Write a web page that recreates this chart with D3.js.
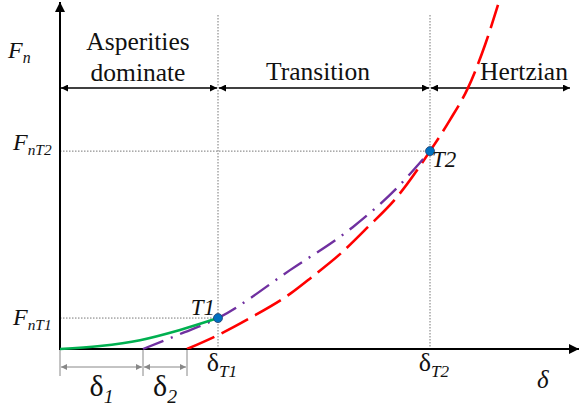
<!doctype html>
<html>
<head>
  <meta charset="utf-8">
</head>
<body style="margin:0">
  <script src="https://d3js.org/d3.v7.min.js"></script>
  <script>
    // Curve data (x = displacement, y = normal force, arbitrary units)
    var greenX  = [0, 0.8, 1.6, 2.4, 3.16];
    var greenY  = [0, 0.09, 0.26, 0.56, 0.91];
    var purpleX = [1.66, 2.4, 3.16, 4.6, 5.86, 6.74, 7.4];
    var purpleY = [0, 0.44, 0.91, 2.32, 3.59, 4.74, 5.82];
    var redX    = [2.54, 3.16, 3.8, 4.6, 5.04, 5.6, 6.16, 6.74, 7.4, 7.8, 8.16, 8.5, 8.76];
    var redY    = [0, 0.41, 0.91, 1.62, 2.12, 2.79, 3.59, 4.47, 5.82, 6.74, 7.68, 8.94, 10.12];

    // key values
    var delta1 = 1.66, delta2 = 2.54, deltaT1 = 3.16, deltaT2 = 7.4;
    var forceT1 = 0.91, forceT2 = 5.82;
    var regionNames = [["Asperities", "dominate"], ["Transition"], ["Hertzian"]];

    var width = 580, height = 409;
    var ox = 60, oy = 349;
    var serif = "'Liberation Serif', 'Times New Roman', Times, serif";

    var x = d3.scaleLinear().domain([0, 10]).range([ox, 560]);
    var y = d3.scaleLinear().domain([0, 10]).range([oy, 9]);

    var svg = d3.select("body").append("svg")
                .attr("width", width)
                .attr("height", height)
                .style("font-family", serif);

    var defs = svg.append("defs");
    function marker(id, color, w, h, reverse) {
      defs.append("marker")
          .attr("id", id)
          .attr("viewBox", "0 0 10 10")
          .attr("refX", 10).attr("refY", 5)
          .attr("markerWidth", w).attr("markerHeight", h)
          .attr("markerUnits", "userSpaceOnUse")
          .attr("orient", reverse ? "auto-start-reverse" : "auto")
        .append("path")
          .attr("d", "M0,0L10,5L0,10z")
          .attr("fill", color);
    }
    marker("axisArrow", "#000", 14, 10);
    marker("smallArrow", "#000", 9, 7, true);
    marker("greyArrow", "#888", 7, 6, true);

    // dotted guide lines
    var guides = svg.append("g")
        .attr("stroke", "#777")
        .attr("stroke-width", 1)
        .attr("stroke-dasharray", "1.5,1.5");
    [deltaT1, deltaT2].forEach(function(d) {
      guides.append("line")
          .attr("x1", x(d)).attr("x2", x(d))
          .attr("y1", 15).attr("y2", oy);
    });
    [[forceT1, deltaT1], [forceT2, deltaT2]].forEach(function(d) {
      guides.append("line")
          .attr("x1", ox).attr("x2", x(d[1]))
          .attr("y1", y(d[0])).attr("y2", y(d[0]));
    });

    // axes
    svg.append("line")
        .attr("x1", ox).attr("y1", oy).attr("x2", ox).attr("y2", 2)
        .attr("stroke", "#000").attr("stroke-width", 2)
        .attr("marker-end", "url(#axisArrow)");
    svg.append("line")
        .attr("x1", ox - 1).attr("y1", oy).attr("x2", 579).attr("y2", oy)
        .attr("stroke", "#000").attr("stroke-width", 2)
        .attr("marker-end", "url(#axisArrow)");

    // region arrows
    var bounds = [0, deltaT1, deltaT2, null];
    var arrowY = 88;
    for (var i = 0; i < 3; i++) {
      var x1 = x(bounds[i]) + 1;
      var x2 = bounds[i + 1] === null ? 570 : x(bounds[i + 1]) - 1;
      svg.append("line")
          .attr("x1", x1).attr("x2", x2)
          .attr("y1", arrowY).attr("y2", arrowY)
          .attr("stroke", "#000").attr("stroke-width", 1.3)
          .attr("marker-start", "url(#smallArrow)")
          .attr("marker-end", "url(#smallArrow)");
    }
    var labelX = [138, 318, 524];
    regionNames.forEach(function(lines, i) {
      lines.forEach(function(s, j) {
        svg.append("text")
            .style("font-family", serif)
            .attr("text-anchor", "middle")
            .attr("font-size", 25.5)
            .attr("fill", "#111")
            .attr("x", labelX[i])
            .attr("y", lines.length === 2 ? 50 + j * 31 : 80)
            .text(s);
      });
    });

    // dimension lines for delta1, delta2
    var dimY = 367;
    [0, delta1, delta2].forEach(function(d) {
      svg.append("line")
          .attr("x1", x(d)).attr("x2", x(d))
          .attr("y1", oy + 1).attr("y2", 376)
          .attr("stroke", "#888").attr("stroke-width", 1);
    });
    [[0, delta1], [delta1, delta2]].forEach(function(d) {
      svg.append("line")
          .attr("x1", x(d[0]) + 1).attr("x2", x(d[1]) - 1)
          .attr("y1", dimY).attr("y2", dimY)
          .attr("stroke", "#888").attr("stroke-width", 1)
          .attr("marker-start", "url(#greyArrow)")
          .attr("marker-end", "url(#greyArrow)");
    });

    // curves
    function pts(xs, ys) { return xs.map(function(v, k) { return [v, ys[k]]; }); }
    var line = d3.line()
        .x(function(d) { return x(d[0]); })
        .y(function(d) { return y(d[1]); })
        .curve(d3.curveMonotoneX);

    var clip = defs.append("clipPath").attr("id", "plot");
    clip.append("rect").attr("x", 0).attr("y", 0).attr("width", width).attr("height", oy);

    svg.append("path")
        .attr("d", line(pts(redX, redY)))
        .attr("fill", "none").attr("stroke", "#ff0000").attr("stroke-width", 2.6)
        .attr("stroke-dasharray", "30,8")
        .attr("clip-path", "url(#plot)");
    svg.append("path")
        .attr("d", line(pts(purpleX, purpleY)))
        .attr("fill", "none").attr("stroke", "#7030a0").attr("stroke-width", 2.4)
        .attr("stroke-dasharray", "22,8,2,8");
    svg.append("path")
        .attr("d", line(pts(greenX, greenY)))
        .attr("fill", "none").attr("stroke", "#00b050").attr("stroke-width", 2.6);

    // transition points
    [[deltaT1, forceT1], [deltaT2, forceT2]].forEach(function(d) {
      svg.append("circle")
          .attr("cx", x(d[0])).attr("cy", y(d[1]))
          .attr("r", 4.5)
          .attr("fill", "#0070c0")
          .attr("stroke", "#1f3f6f").attr("stroke-width", 0.8);
    });

    // math-like labels
    function mathLabel(px, py, main, sub, size, anchor, italicMain, subRatio) {
      var t = svg.append("text")
          .style("font-family", serif)
          .attr("x", px).attr("y", py)
          .attr("font-size", size)
          .attr("fill", "#111")
          .attr("text-anchor", anchor || "start");
      t.append("tspan").attr("font-style", italicMain ? "italic" : "normal").text(main);
      if (sub) {
        t.append("tspan")
            .attr("font-style", "italic")
            .attr("font-size", size * (subRatio || 0.66))
            .attr("dy", size * 0.22)
            .text(sub);
      }
      return t;
    }
    mathLabel(8, 58, "F", "n", 24, "start", true);
    mathLabel(13, y(forceT2) - 1, "F", "nT2", 24, "start", true, 0.64);
    mathLabel(13, y(forceT1) + 7, "F", "nT1", 24, "start", true, 0.64);
    mathLabel(x(deltaT1) + 4, 371, "\u03b4", "T1", 26, "middle", false);
    mathLabel(x(deltaT2) + 4, 371, "\u03b4", "T2", 26, "middle", false);
    mathLabel(537, 388, "\u03b4", null, 25, "start", true);
    mathLabel((x(0) + x(delta1)) / 2, 396, "\u03b4", "1", 30, "middle", false);
    mathLabel((x(delta1) + x(delta2)) / 2, 396, "\u03b4", "2", 30, "middle", false);

    svg.append("text").attr("x", x(deltaT1) - 3).attr("y", y(forceT1) - 3)
        .style("font-family", serif)
        .attr("text-anchor", "end").attr("font-size", 23).attr("font-style", "italic")
        .attr("fill", "#111").text("T1");
    svg.append("text").attr("x", x(deltaT2) + 2).attr("y", y(forceT2) + 16)
        .style("font-family", serif)
        .attr("font-size", 23).attr("font-style", "italic")
        .attr("fill", "#111").text("T2");
  </script>
</body>
</html>
